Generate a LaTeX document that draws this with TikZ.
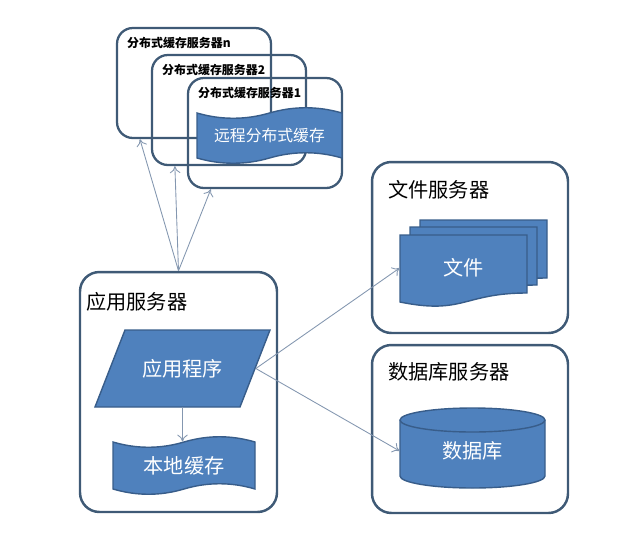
\documentclass[tikz,border=0pt]{standalone}
\usepackage{fontspec}
\setmainfont{Noto Sans CJK SC}
\usetikzlibrary{calc}
\usetikzlibrary{arrows.meta}
\definecolor{blk}{HTML}{4F81BD}
\definecolor{blkline}{HTML}{385D8A}
\definecolor{boxline}{HTML}{3F5A76}
\definecolor{linkcol}{HTML}{8497B0}

\begin{document}
\begin{tikzpicture}[x=0.02cm, y=-0.02cm,
 server/.style={draw=boxline, line width=1.4pt, rounded corners=11pt, inner sep=0},
 cache/.style={draw=boxline, line width=1.3pt, rounded corners=9pt, minimum width=3.08cm, minimum height=2.2cm, inner sep=0},
 title/.style={anchor=west, inner sep=0, font=\fontsize{11.5}{13}\selectfont},
 small/.style={anchor=west, inner sep=0, font=\fontsize{6.8}{8}\selectfont\bfseries},
 blue/.style={fill=blk, draw=blkline, line width=0.8pt},
 txt/.style={text=white, inner sep=0, font=\fontsize{11.5}{13}\selectfont},
 link/.style={draw=linkcol, line width=0.5pt, -{To[length=4pt,width=6pt]}}]
\useasboundingbox (0,0) rectangle (640,535);
\node[server, minimum width=3.94cm, minimum height=4.8cm] (app) at (178.5,392) {};
\node[title] (appt) at (86,302) {应用服务器};
\node[server, minimum width=3.92cm, minimum height=3.42cm] (fsrv) at (470,247.5) {};
\node[title] (fsrvt) at (388,190) {文件服务器};
\node[server, minimum width=3.92cm, minimum height=3.36cm] (dbsrv) at (470,429) {};
\node[title] (dbsrvt) at (388,372) {数据库服务器};
\foreach \name/\x/\y/\lbl in {cn/194/83/n, c2/229/110/2, c1/265/133/1} {
 \node[cache] (\name) at (\x,\y) {};
 \node[small] (\name lbl) at ($(\name.north west)+(11,16)$) {分布式缓存服务器\lbl};
}
\foreach \x/\y/\w/\h in {197/113/145/45, 113/442/142/47}
 \path[blue] (\x,\y) .. controls (\x+\w/6,\y+7) and (\x+\w/3,\y+7) .. (\x+\w/2,\y) .. controls (\x+2*\w/3,\y-7) and (\x+5*\w/6,\y-7) .. (\x+\w,\y) -- (\x+\w,\y+\h) .. controls (\x+5*\w/6,\y+\h-7) and (\x+2*\w/3,\y+\h-7) .. (\x+\w/2,\y+\h) .. controls (\x+\w/3,\y+\h+7) and (\x+\w/6,\y+\h+7) .. (\x,\y+\h) -- cycle;
\node[txt, font=\fontsize{9}{11}\selectfont] (remote) at (269.5,136) {远程分布式缓存};
\node[txt, minimum width=2.84cm, minimum height=0.94cm] (local) at (184,465.5) {本地缓存};
\path[blue] (125,330) -- (270,330) -- (240,407) -- (95,407) -- cycle;
\node[txt, minimum width=2.92cm, minimum height=1.54cm] (prog) at (182.5,368.5) {应用程序};
\foreach \x/\y in {420/220, 410/227, 400/235}
 \path[blue] (\x,\y) -- (\x+127,\y) -- (\x+127,\y+58) .. controls (\x+63.5,\y+58) and (\x+63.5,\y+80) .. (\x,\y+67) -- cycle;
\node[txt, minimum width=2.54cm, minimum height=1.32cm] (file) at (463.5,268) {文件};
\path[blue] (400,420) -- (400,476) .. controls (400,482.6) and (432.5,488) .. (472.5,488) .. controls (512.5,488) and (545,482.6) .. (545,476) -- (545,420) .. controls (545,413.4) and (512.5,408) .. (472.5,408) .. controls (432.5,408) and (400,413.4) .. (400,420) -- cycle;
\draw[blkline, line width=0.8pt] (400,420) .. controls (400,426.6) and (432.5,432) .. (472.5,432) .. controls (512.5,432) and (545,426.6) .. (545,420);
\node[txt, minimum width=2.9cm, minimum height=1.6cm] (db) at (472.5,451) {数据库};
\foreach \name in {cn,c2,c1}
 \draw[link] (app.north) -- ($(\name.south west)+(24,0)$);
\draw[link] (prog.south) -- (prog.south |- local.north);
\draw[link] (prog.east) -- (file.west);
\draw[link] (prog.east) -- (db.west);
\end{tikzpicture}
\end{document}
